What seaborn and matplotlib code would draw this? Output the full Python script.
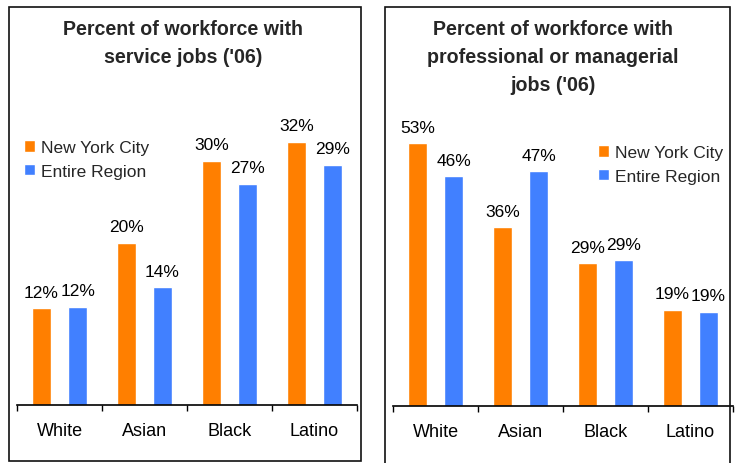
import matplotlib
matplotlib.use("Agg")
import matplotlib.pyplot as plt
from matplotlib.patches import Rectangle
import seaborn as sns
import pandas as pd

groups = ["White", "Asian", "Black", "Latino"]
areas = ["New York City", "Entire Region"]
service_nyc = [11.8, 19.8, 29.8, 32.1]
service_region = [12.0, 14.4, 27.0, 29.3]
prof_nyc = [53.0, 36.1, 28.8, 19.4]
prof_region = [46.4, 47.4, 29.4, 19.0]
title_left = "Percent of workforce with\nservice jobs ('06)"
title_right = "Percent of workforce with\nprofessional or managerial\njobs ('06)"
colors = {"New York City": "#FF7F00", "Entire Region": "#4180FF"}

sns.set_style("white")
plt.rcParams["font.family"] = ["Liberation Sans", "DejaVu Sans"]

W, H = 735, 464
fig = plt.figure(figsize=(W / 100, H / 100), dpi=100)


def fx(px):
    return px / W


def fy(py):
    return 1 - py / H


def make_df(nyc, reg):
    return pd.DataFrame({
        "group": groups * 2,
        "area": [areas[0]] * 4 + [areas[1]] * 4,
        "pct": list(nyc) + list(reg),
    })


def panel(rect, df, ymax, title, title_x, legend_xy):
    ax = fig.add_axes(rect)
    sns.barplot(data=df, x="group", y="pct", hue="area", order=groups,
                hue_order=areas, palette=colors, width=0.85, gap=0.45,
                saturation=1, ax=ax, errorbar=None)
    ax.set_xlim(-0.5, 3.5)
    ax.set_ylim(0, ymax)
    ax.set_xlabel("")
    ax.set_ylabel("")
    ax.set_yticks([])
    for s in ["left", "right", "top"]:
        ax.spines[s].set_visible(False)
    ax.spines["bottom"].set_color("black")
    ax.spines["bottom"].set_linewidth(1.2)
    ax.set_xticks([-0.5, 0.5, 1.5, 2.5, 3.5], minor=True)
    ax.tick_params(axis="x", which="minor", bottom=True, length=4,
                   width=1, color="black", direction="out")
    ax.tick_params(axis="x", which="major", length=0, pad=12,
                   labelsize=13, labelcolor="black")
    for cont in ax.containers:
        labels = [f"{round(b.get_height())}%" for b in cont]
        ax.bar_label(cont, labels=labels, padding=6, fontsize=12.5,
                     color="black")
    ax.legend(loc="upper left", bbox_to_anchor=legend_xy,
              bbox_transform=fig.transFigure, frameon=False,
              fontsize=12.5, handlelength=0.65, handleheight=0.65,
              handletextpad=0.35, labelspacing=0.5, borderpad=0,
              borderaxespad=0)
    fig.text(title_x, fy(20), title, ha="center", va="top",
             fontsize=14.1, fontweight="bold", linespacing=1.6)
    return ax


# left panel: baseline at y=406, 8.2 px per percent
panel([fx(17), fy(406), fx(340), (35 * 8.2) / H],
      make_df(service_nyc, service_region), 35, title_left, fx(183),
      (fx(24), fy(141)))
# right panel: baseline at y=407, 4.96 px per percent
panel([fx(393), fy(407), fx(340), (60 * 4.96) / H],
      make_df(prof_nyc, prof_region), 60, title_right, fx(553),
      (fx(598), fy(146)))

# panel frames
fig.add_artist(Rectangle((fx(9), fy(462)), fx(352), (462 - 8) / H,
                         transform=fig.transFigure, fill=False,
                         edgecolor="#111111", linewidth=1.2))
fig.add_artist(Rectangle((fx(385), fy(466)), fx(345), (466 - 8) / H,
                         transform=fig.transFigure, fill=False,
                         edgecolor="#111111", linewidth=1.2))

fig.savefig("out.png", dpi=100)
